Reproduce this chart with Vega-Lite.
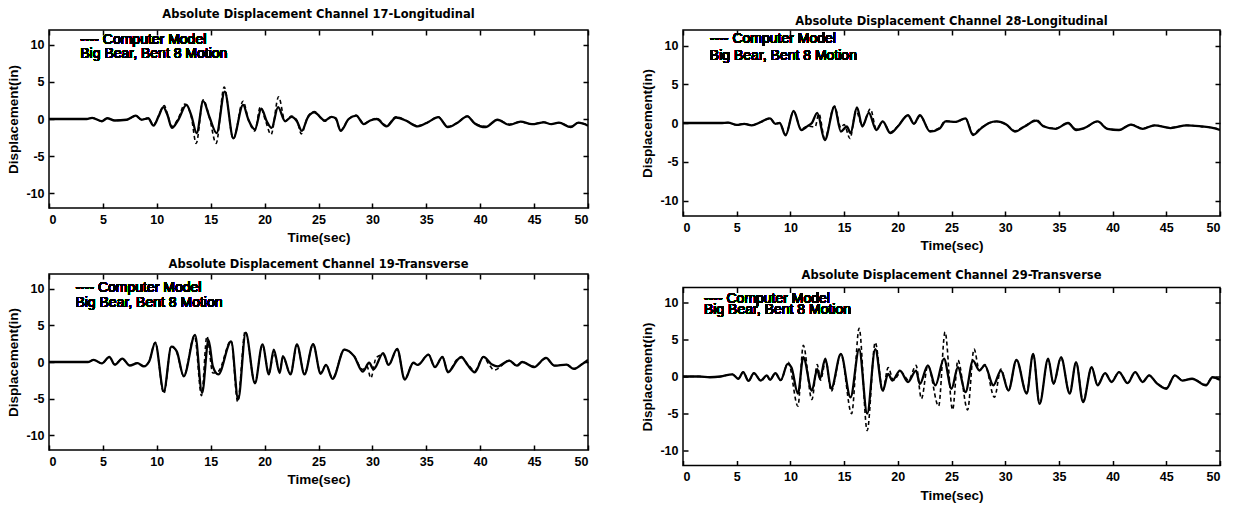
{
  "$schema": "https://vega.github.io/schema/vega-lite/v6.json",
  "background": "white",
  "padding": {"left": 6, "top": 8, "right": 2, "bottom": 2},
  "config": {
    "font": "Liberation Sans",
    "view": {"stroke": "black", "strokeWidth": 1.5},
    "axis": {"grid": false, "domain": false, "tickSize": -5, "tickWidth": 1.5, "tickColor": "black", "labelFontSize": 12.5, "labelFontWeight": "bold", "labelColor": "black", "labelPadding": 10, "titleFontSize": 13.5, "titleFontWeight": "bold", "titleColor": "black", "titlePadding": 5},
    "title": {"font": "DejaVu Sans", "fontSize": 11.5, "fontWeight": "bold", "color": "black", "frame": "group"},
    "text": {"font": "Liberation Sans", "fontSize": 14, "color": "black", "align": "left", "baseline": "middle"}
  },
  "datasets": {
    "ch17": [
      {"series":"Measured","time":0,"disp":0},{"series":"Measured","time":3.5,"disp":0},{"series":"Measured","time":4.0,"disp":0.15},{"series":"Measured","time":4.9,"disp":-0.3},{"series":"Measured","time":5.4,"disp":0.1},{"series":"Measured","time":6.1,"disp":-0.2},{"series":"Measured","time":7.2,"disp":-0.1},{"series":"Measured","time":8.05,"disp":0.45},{"series":"Measured","time":8.6,"disp":-0.1},{"series":"Measured","time":9.2,"disp":0.1},{"series":"Measured","time":9.7,"disp":-0.9},{"series":"Measured","time":10.15,"disp":0.3},{"series":"Measured","time":10.6,"disp":1.6},{"series":"Measured","time":11.0,"disp":0.5},{"series":"Measured","time":11.4,"disp":-1.2},{"series":"Measured","time":12.0,"disp":-0.1},{"series":"Measured","time":12.75,"disp":1.9},{"series":"Measured","time":13.2,"disp":0.5},{"series":"Measured","time":13.7,"disp":-1.9},{"series":"Measured","time":14.3,"disp":2.4},{"series":"Measured","time":14.9,"disp":0.2},{"series":"Measured","time":15.55,"disp":-1.9},{"series":"Measured","time":16.3,"disp":3.7},{"series":"Measured","time":17.1,"disp":-2.6},{"series":"Measured","time":18.0,"disp":1.9},{"series":"Measured","time":18.5,"disp":-0.1},{"series":"Measured","time":19.1,"disp":-1.4},{"series":"Measured","time":19.7,"disp":1.4},{"series":"Measured","time":20.2,"disp":-0.3},{"series":"Measured","time":20.65,"disp":-1.2},{"series":"Measured","time":21.25,"disp":1.6},{"series":"Measured","time":21.9,"disp":-0.3},{"series":"Measured","time":22.5,"disp":0.3},{"series":"Measured","time":23.0,"disp":-0.3},{"series":"Measured","time":23.45,"disp":-1.6},{"series":"Measured","time":24.0,"disp":0.2},{"series":"Measured","time":24.6,"disp":0.9},{"series":"Measured","time":25.6,"disp":-0.2},{"series":"Measured","time":26.2,"disp":0.3},{"series":"Measured","time":26.6,"disp":0.1},{"series":"Measured","time":27.05,"disp":-1.6},{"series":"Measured","time":27.8,"disp":0},{"series":"Measured","time":28.5,"disp":0.45},{"series":"Measured","time":29.2,"disp":-0.7},{"series":"Measured","time":29.8,"disp":-0.2},{"series":"Measured","time":30.4,"disp":0},{"series":"Measured","time":31.3,"disp":-1.0},{"series":"Measured","time":32.2,"disp":0.2},{"series":"Measured","time":33.1,"disp":-0.2},{"series":"Measured","time":34.2,"disp":-1.0},{"series":"Measured","time":35.2,"disp":-0.4},{"series":"Measured","time":36.1,"disp":0.25},{"series":"Measured","time":37.0,"disp":-1.1},{"series":"Measured","time":37.9,"disp":-0.5},{"series":"Measured","time":38.8,"disp":0.35},{"series":"Measured","time":39.5,"disp":-0.6},{"series":"Measured","time":40.5,"disp":-1.1},{"series":"Measured","time":41.6,"disp":-0.1},{"series":"Measured","time":42.7,"disp":-0.8},{"series":"Measured","time":43.75,"disp":-0.35},{"series":"Measured","time":44.8,"disp":-0.7},{"series":"Measured","time":45.9,"disp":-0.45},{"series":"Measured","time":46.6,"disp":-0.7},{"series":"Measured","time":47.3,"disp":-0.5},{"series":"Measured","time":48.4,"disp":-1.1},{"series":"Measured","time":49.1,"disp":-0.5},{"series":"Measured","time":50,"disp":-0.9},
      {"series":"Computer Model","time":0,"disp":0},{"series":"Computer Model","time":3.5,"disp":0},{"series":"Computer Model","time":4.0,"disp":0.15},{"series":"Computer Model","time":4.9,"disp":-0.3},{"series":"Computer Model","time":5.4,"disp":0.1},{"series":"Computer Model","time":6.1,"disp":-0.2},{"series":"Computer Model","time":7.2,"disp":-0.1},{"series":"Computer Model","time":8.05,"disp":0.4},{"series":"Computer Model","time":8.6,"disp":-0.1},{"series":"Computer Model","time":9.2,"disp":0.1},{"series":"Computer Model","time":9.7,"disp":-0.8},{"series":"Computer Model","time":10.15,"disp":0.4},{"series":"Computer Model","time":10.7,"disp":1.8},{"series":"Computer Model","time":11.0,"disp":0.6},{"series":"Computer Model","time":11.4,"disp":-1.0},{"series":"Computer Model","time":12.0,"disp":0.1},{"series":"Computer Model","time":12.6,"disp":2.0},{"series":"Computer Model","time":13.2,"disp":0.3},{"series":"Computer Model","time":13.65,"disp":-3.3},{"series":"Computer Model","time":14.3,"disp":2.6},{"series":"Computer Model","time":14.9,"disp":0.1},{"series":"Computer Model","time":15.5,"disp":-3.3},{"series":"Computer Model","time":16.25,"disp":4.3},{"series":"Computer Model","time":17.1,"disp":-2.7},{"series":"Computer Model","time":18.0,"disp":2.4},{"series":"Computer Model","time":18.5,"disp":-0.1},{"series":"Computer Model","time":19.1,"disp":-1.6},{"series":"Computer Model","time":19.6,"disp":1.6},{"series":"Computer Model","time":20.1,"disp":-0.3},{"series":"Computer Model","time":20.6,"disp":-2.1},{"series":"Computer Model","time":21.3,"disp":3.0},{"series":"Computer Model","time":21.9,"disp":-0.3},{"series":"Computer Model","time":22.5,"disp":0.4},{"series":"Computer Model","time":23.0,"disp":-0.2},{"series":"Computer Model","time":23.4,"disp":-2.0},{"series":"Computer Model","time":24.0,"disp":0.3},{"series":"Computer Model","time":24.6,"disp":1.0},{"series":"Computer Model","time":25.6,"disp":-0.3},{"series":"Computer Model","time":26.2,"disp":0.3},{"series":"Computer Model","time":26.6,"disp":0},{"series":"Computer Model","time":27.05,"disp":-1.5},{"series":"Computer Model","time":27.8,"disp":0},{"series":"Computer Model","time":28.5,"disp":0.5},{"series":"Computer Model","time":29.2,"disp":-0.6},{"series":"Computer Model","time":29.8,"disp":-0.2},{"series":"Computer Model","time":30.4,"disp":0.1},{"series":"Computer Model","time":31.3,"disp":-0.9},{"series":"Computer Model","time":32.2,"disp":0.3},{"series":"Computer Model","time":33.1,"disp":-0.2},{"series":"Computer Model","time":34.2,"disp":-0.9},{"series":"Computer Model","time":35.2,"disp":-0.4},{"series":"Computer Model","time":36.1,"disp":0.3},{"series":"Computer Model","time":37.0,"disp":-1.0},{"series":"Computer Model","time":37.9,"disp":-0.5},{"series":"Computer Model","time":38.8,"disp":0.4},{"series":"Computer Model","time":39.5,"disp":-0.6},{"series":"Computer Model","time":40.5,"disp":-1.0},{"series":"Computer Model","time":41.6,"disp":-0.1},{"series":"Computer Model","time":42.7,"disp":-0.7},{"series":"Computer Model","time":43.75,"disp":-0.4},{"series":"Computer Model","time":44.8,"disp":-0.7},{"series":"Computer Model","time":45.9,"disp":-0.4},{"series":"Computer Model","time":46.6,"disp":-0.7},{"series":"Computer Model","time":47.3,"disp":-0.5},{"series":"Computer Model","time":48.4,"disp":-1.0},{"series":"Computer Model","time":49.1,"disp":-0.5},{"series":"Computer Model","time":50,"disp":-0.8}
    ],
    "ch28": [
      {"series":"Measured","time":0,"disp":0},{"series":"Measured","time":3.5,"disp":0},{"series":"Measured","time":4.2,"disp":0.05},{"series":"Measured","time":5.0,"disp":-0.25},{"series":"Measured","time":5.7,"disp":-0.1},{"series":"Measured","time":6.4,"disp":-0.3},{"series":"Measured","time":7.2,"disp":0.1},{"series":"Measured","time":8.1,"disp":0.6},{"series":"Measured","time":8.6,"disp":-0.1},{"series":"Measured","time":9.0,"disp":0},{"series":"Measured","time":9.55,"disp":-1.6},{"series":"Measured","time":10.3,"disp":1.55},{"series":"Measured","time":11.0,"disp":-0.9},{"series":"Measured","time":11.6,"disp":-0.4},{"series":"Measured","time":12.0,"disp":0},{"series":"Measured","time":12.5,"disp":1.3},{"series":"Measured","time":13.2,"disp":-2.2},{"series":"Measured","time":14.1,"disp":2.1},{"series":"Measured","time":14.7,"disp":-1.1},{"series":"Measured","time":15.25,"disp":-0.45},{"series":"Measured","time":15.6,"disp":-1.3},{"series":"Measured","time":16.2,"disp":2.0},{"series":"Measured","time":16.7,"disp":-0.45},{"series":"Measured","time":17.3,"disp":1.3},{"series":"Measured","time":18.0,"disp":-0.9},{"series":"Measured","time":18.6,"disp":0.2},{"series":"Measured","time":19.3,"disp":-1.3},{"series":"Measured","time":20.0,"disp":-0.45},{"series":"Measured","time":20.95,"disp":1.0},{"series":"Measured","time":21.5,"disp":-0.1},{"series":"Measured","time":22.06,"disp":1.0},{"series":"Measured","time":23.0,"disp":-1.1},{"series":"Measured","time":23.9,"disp":-0.7},{"series":"Measured","time":24.45,"disp":0.2},{"series":"Measured","time":25.4,"disp":0.15},{"series":"Measured","time":26.3,"disp":0.6},{"series":"Measured","time":27.0,"disp":-1.55},{"series":"Measured","time":27.75,"disp":-0.7},{"series":"Measured","time":28.5,"disp":0},{"series":"Measured","time":29.2,"disp":0.2},{"series":"Measured","time":30.1,"disp":-0.2},{"series":"Measured","time":30.9,"disp":-1.1},{"series":"Measured","time":31.8,"disp":-0.45},{"series":"Measured","time":32.9,"disp":0.3},{"series":"Measured","time":33.6,"disp":-0.45},{"series":"Measured","time":34.7,"disp":-0.75},{"series":"Measured","time":35.85,"disp":0},{"series":"Measured","time":36.6,"disp":-0.9},{"series":"Measured","time":37.3,"disp":-0.7},{"series":"Measured","time":38.6,"disp":0.2},{"series":"Measured","time":39.5,"disp":-0.75},{"series":"Measured","time":40.6,"disp":-0.9},{"series":"Measured","time":41.7,"disp":-0.2},{"series":"Measured","time":42.8,"disp":-0.75},{"series":"Measured","time":43.9,"disp":-0.3},{"series":"Measured","time":45.4,"disp":-0.65},{"series":"Measured","time":46.9,"disp":-0.3},{"series":"Measured","time":48.3,"disp":-0.45},{"series":"Measured","time":49.2,"disp":-0.6},{"series":"Measured","time":50,"disp":-0.9},
      {"series":"Computer Model","time":0,"disp":0},{"series":"Computer Model","time":3.5,"disp":0},{"series":"Computer Model","time":4.2,"disp":0.05},{"series":"Computer Model","time":5.0,"disp":-0.25},{"series":"Computer Model","time":5.7,"disp":-0.1},{"series":"Computer Model","time":6.4,"disp":-0.3},{"series":"Computer Model","time":7.2,"disp":0.1},{"series":"Computer Model","time":8.1,"disp":0.6},{"series":"Computer Model","time":8.6,"disp":-0.1},{"series":"Computer Model","time":9.0,"disp":0},{"series":"Computer Model","time":9.55,"disp":-1.5},{"series":"Computer Model","time":10.3,"disp":1.5},{"series":"Computer Model","time":11.0,"disp":-0.8},{"series":"Computer Model","time":11.6,"disp":-0.4},{"series":"Computer Model","time":12.3,"disp":-0.5},{"series":"Computer Model","time":12.65,"disp":1.2},{"series":"Computer Model","time":13.2,"disp":-2.0},{"series":"Computer Model","time":14.1,"disp":2.2},{"series":"Computer Model","time":14.7,"disp":-0.6},{"series":"Computer Model","time":15.0,"disp":-0.2},{"series":"Computer Model","time":15.55,"disp":-2.0},{"series":"Computer Model","time":16.1,"disp":1.6},{"series":"Computer Model","time":16.7,"disp":-0.3},{"series":"Computer Model","time":17.45,"disp":1.8},{"series":"Computer Model","time":18.0,"disp":-0.8},{"series":"Computer Model","time":18.6,"disp":0.2},{"series":"Computer Model","time":19.3,"disp":-1.2},{"series":"Computer Model","time":20.0,"disp":-0.4},{"series":"Computer Model","time":20.95,"disp":1.0},{"series":"Computer Model","time":21.5,"disp":-0.1},{"series":"Computer Model","time":22.06,"disp":0.9},{"series":"Computer Model","time":23.0,"disp":-1.0},{"series":"Computer Model","time":23.9,"disp":-0.6},{"series":"Computer Model","time":24.45,"disp":0.3},{"series":"Computer Model","time":25.4,"disp":0.1},{"series":"Computer Model","time":26.3,"disp":0.6},{"series":"Computer Model","time":27.0,"disp":-1.4},{"series":"Computer Model","time":27.75,"disp":-0.6},{"series":"Computer Model","time":28.5,"disp":0},{"series":"Computer Model","time":29.2,"disp":0.2},{"series":"Computer Model","time":30.1,"disp":-0.2},{"series":"Computer Model","time":30.9,"disp":-1.0},{"series":"Computer Model","time":31.8,"disp":-0.4},{"series":"Computer Model","time":32.9,"disp":0.4},{"series":"Computer Model","time":33.6,"disp":-0.4},{"series":"Computer Model","time":34.7,"disp":-0.7},{"series":"Computer Model","time":35.85,"disp":0},{"series":"Computer Model","time":36.6,"disp":-0.8},{"series":"Computer Model","time":37.3,"disp":-0.7},{"series":"Computer Model","time":38.6,"disp":0.2},{"series":"Computer Model","time":39.5,"disp":-0.7},{"series":"Computer Model","time":40.6,"disp":-0.9},{"series":"Computer Model","time":41.7,"disp":-0.2},{"series":"Computer Model","time":42.8,"disp":-0.7},{"series":"Computer Model","time":43.9,"disp":-0.3},{"series":"Computer Model","time":45.4,"disp":-0.6},{"series":"Computer Model","time":46.9,"disp":-0.3},{"series":"Computer Model","time":48.3,"disp":-0.45},{"series":"Computer Model","time":49.2,"disp":-0.6},{"series":"Computer Model","time":50,"disp":-0.8}
    ],
    "ch19": [
      {"series":"Measured","time":0,"disp":0},{"series":"Measured","time":3.6,"disp":0},{"series":"Measured","time":4.15,"disp":0.3},{"series":"Measured","time":4.9,"disp":-0.2},{"series":"Measured","time":5.6,"disp":0.7},{"series":"Measured","time":6.1,"disp":-0.35},{"series":"Measured","time":6.8,"disp":0.45},{"series":"Measured","time":7.5,"disp":-0.5},{"series":"Measured","time":8.2,"disp":-0.15},{"series":"Measured","time":8.8,"disp":-0.6},{"series":"Measured","time":9.3,"disp":0.1},{"series":"Measured","time":9.85,"disp":2.6},{"series":"Measured","time":10.65,"disp":-4.0},{"series":"Measured","time":11.35,"disp":2.1},{"series":"Measured","time":11.85,"disp":1.45},{"series":"Measured","time":12.5,"disp":-1.95},{"series":"Measured","time":13.55,"disp":3.7},{"series":"Measured","time":14.2,"disp":-4.2},{"series":"Measured","time":14.8,"disp":3.0},{"series":"Measured","time":15.2,"disp":-0.6},{"series":"Measured","time":15.7,"disp":-1.7},{"series":"Measured","time":16.9,"disp":2.8},{"series":"Measured","time":17.55,"disp":-5.1},{"series":"Measured","time":18.25,"disp":4.0},{"series":"Measured","time":19.1,"disp":-2.9},{"series":"Measured","time":19.8,"disp":2.4},{"series":"Measured","time":20.4,"disp":-1.7},{"series":"Measured","time":20.85,"disp":1.7},{"series":"Measured","time":21.4,"disp":-1.5},{"series":"Measured","time":21.7,"disp":0.8},{"series":"Measured","time":22.4,"disp":-1.7},{"series":"Measured","time":23.0,"disp":2.4},{"series":"Measured","time":23.7,"disp":-1.7},{"series":"Measured","time":24.5,"disp":2.45},{"series":"Measured","time":25.2,"disp":-1.6},{"series":"Measured","time":25.7,"disp":-0.4},{"series":"Measured","time":26.3,"disp":-2.3},{"series":"Measured","time":27.4,"disp":1.7},{"series":"Measured","time":28.3,"disp":0.8},{"series":"Measured","time":29.1,"disp":-1.3},{"series":"Measured","time":29.7,"disp":-0.1},{"series":"Measured","time":30.1,"disp":-1.0},{"series":"Measured","time":31.0,"disp":1.2},{"series":"Measured","time":31.5,"disp":-0.4},{"series":"Measured","time":32.3,"disp":1.8},{"series":"Measured","time":33.0,"disp":-2.4},{"series":"Measured","time":33.8,"disp":-0.1},{"series":"Measured","time":34.2,"disp":-0.4},{"series":"Measured","time":35.2,"disp":1.0},{"series":"Measured","time":35.8,"disp":-0.7},{"series":"Measured","time":36.5,"disp":0.7},{"series":"Measured","time":37.0,"disp":-1.4},{"series":"Measured","time":37.9,"disp":0.3},{"series":"Measured","time":38.25,"disp":0.7},{"series":"Measured","time":38.8,"disp":-0.35},{"series":"Measured","time":39.5,"disp":-1.4},{"series":"Measured","time":40.3,"disp":0.7},{"series":"Measured","time":41.1,"disp":-0.35},{"series":"Measured","time":41.6,"disp":-0.6},{"series":"Measured","time":42.7,"disp":0.2},{"series":"Measured","time":43.4,"disp":-0.5},{"series":"Measured","time":43.9,"disp":0},{"series":"Measured","time":45.0,"disp":-0.7},{"series":"Measured","time":46.1,"disp":0.55},{"series":"Measured","time":46.9,"disp":-0.5},{"series":"Measured","time":48.0,"disp":-0.35},{"series":"Measured","time":48.7,"disp":-0.95},{"series":"Measured","time":49.4,"disp":-0.35},{"series":"Measured","time":50,"disp":0.3},
      {"series":"Computer Model","time":0,"disp":0},{"series":"Computer Model","time":3.6,"disp":0},{"series":"Computer Model","time":4.15,"disp":0.3},{"series":"Computer Model","time":4.9,"disp":-0.2},{"series":"Computer Model","time":5.6,"disp":0.65},{"series":"Computer Model","time":6.1,"disp":-0.35},{"series":"Computer Model","time":6.8,"disp":0.45},{"series":"Computer Model","time":7.5,"disp":-0.45},{"series":"Computer Model","time":8.2,"disp":-0.15},{"series":"Computer Model","time":8.8,"disp":-0.55},{"series":"Computer Model","time":9.3,"disp":0.1},{"series":"Computer Model","time":9.85,"disp":2.7},{"series":"Computer Model","time":10.65,"disp":-4.3},{"series":"Computer Model","time":11.35,"disp":2.2},{"series":"Computer Model","time":11.85,"disp":1.3},{"series":"Computer Model","time":12.5,"disp":-1.9},{"series":"Computer Model","time":13.5,"disp":3.6},{"series":"Computer Model","time":14.15,"disp":-4.6},{"series":"Computer Model","time":14.65,"disp":3.5},{"series":"Computer Model","time":15.2,"disp":-1.5},{"series":"Computer Model","time":15.7,"disp":-1.3},{"series":"Computer Model","time":16.9,"disp":2.9},{"series":"Computer Model","time":17.5,"disp":-5.4},{"series":"Computer Model","time":18.2,"disp":4.2},{"series":"Computer Model","time":19.1,"disp":-2.8},{"series":"Computer Model","time":19.8,"disp":2.3},{"series":"Computer Model","time":20.4,"disp":-1.5},{"series":"Computer Model","time":20.85,"disp":1.2},{"series":"Computer Model","time":21.4,"disp":-1.2},{"series":"Computer Model","time":21.7,"disp":0.6},{"series":"Computer Model","time":22.4,"disp":-1.6},{"series":"Computer Model","time":23.0,"disp":2.3},{"series":"Computer Model","time":23.7,"disp":-1.6},{"series":"Computer Model","time":24.5,"disp":2.4},{"series":"Computer Model","time":25.2,"disp":-1.5},{"series":"Computer Model","time":25.7,"disp":-0.4},{"series":"Computer Model","time":26.3,"disp":-2.2},{"series":"Computer Model","time":27.4,"disp":1.7},{"series":"Computer Model","time":28.3,"disp":0.8},{"series":"Computer Model","time":29.1,"disp":-1.0},{"series":"Computer Model","time":29.5,"disp":-0.6},{"series":"Computer Model","time":29.85,"disp":-2.2},{"series":"Computer Model","time":30.35,"disp":0.6},{"series":"Computer Model","time":31.0,"disp":1.0},{"series":"Computer Model","time":31.5,"disp":-0.4},{"series":"Computer Model","time":32.3,"disp":1.7},{"series":"Computer Model","time":33.0,"disp":-2.3},{"series":"Computer Model","time":33.8,"disp":-0.1},{"series":"Computer Model","time":34.2,"disp":-0.4},{"series":"Computer Model","time":35.2,"disp":1.0},{"series":"Computer Model","time":35.8,"disp":-0.7},{"series":"Computer Model","time":36.5,"disp":0.7},{"series":"Computer Model","time":37.0,"disp":-1.3},{"series":"Computer Model","time":37.9,"disp":0.4},{"series":"Computer Model","time":38.25,"disp":0.6},{"series":"Computer Model","time":38.8,"disp":-0.2},{"series":"Computer Model","time":39.5,"disp":-1.2},{"series":"Computer Model","time":40.3,"disp":0.7},{"series":"Computer Model","time":40.8,"disp":-0.3},{"series":"Computer Model","time":41.3,"disp":-1.1},{"series":"Computer Model","time":42.7,"disp":0.2},{"series":"Computer Model","time":43.4,"disp":-0.5},{"series":"Computer Model","time":43.9,"disp":0},{"series":"Computer Model","time":45.0,"disp":-0.6},{"series":"Computer Model","time":46.1,"disp":0.5},{"series":"Computer Model","time":46.9,"disp":-0.5},{"series":"Computer Model","time":48.0,"disp":-0.35},{"series":"Computer Model","time":48.7,"disp":-0.9},{"series":"Computer Model","time":49.4,"disp":-0.35},{"series":"Computer Model","time":50,"disp":0.2}
    ],
    "ch29": [
      {"series":"Measured","time":0,"disp":0},{"series":"Measured","time":1.5,"disp":0},{"series":"Measured","time":2.5,"disp":-0.1},{"series":"Measured","time":3.5,"disp":0},{"series":"Measured","time":4.6,"disp":0.3},{"series":"Measured","time":5.15,"disp":-0.3},{"series":"Measured","time":5.6,"disp":0.6},{"series":"Measured","time":6.1,"disp":-0.6},{"series":"Measured","time":6.6,"disp":0.45},{"series":"Measured","time":7.25,"disp":-0.55},{"series":"Measured","time":7.8,"disp":0.15},{"series":"Measured","time":8.1,"disp":-0.45},{"series":"Measured","time":8.6,"disp":0.45},{"series":"Measured","time":9.1,"disp":-0.5},{"series":"Measured","time":9.75,"disp":1.7},{"series":"Measured","time":10.1,"disp":1.2},{"series":"Measured","time":10.7,"disp":-2.3},{"series":"Measured","time":11.2,"disp":2.6},{"series":"Measured","time":12.0,"disp":-1.9},{"series":"Measured","time":12.5,"disp":1.0},{"series":"Measured","time":12.75,"disp":-0.3},{"series":"Measured","time":13.25,"disp":2.4},{"series":"Measured","time":13.8,"disp":-1.65},{"series":"Measured","time":14.7,"disp":3.05},{"series":"Measured","time":15.6,"disp":-2.8},{"series":"Measured","time":16.4,"disp":3.7},{"series":"Measured","time":17.15,"disp":-5.0},{"series":"Measured","time":17.9,"disp":3.7},{"series":"Measured","time":18.6,"disp":-1.9},{"series":"Measured","time":19.1,"disp":0.35},{"series":"Measured","time":19.5,"disp":-0.55},{"series":"Measured","time":20.2,"disp":0.8},{"series":"Measured","time":20.95,"disp":-0.75},{"series":"Measured","time":21.7,"disp":0.8},{"series":"Measured","time":22.05,"disp":-1.0},{"series":"Measured","time":22.8,"disp":1.5},{"series":"Measured","time":23.5,"disp":-1.2},{"series":"Measured","time":24.3,"disp":2.4},{"series":"Measured","time":25.0,"disp":-1.65},{"series":"Measured","time":25.6,"disp":1.25},{"series":"Measured","time":26.3,"disp":-2.1},{"series":"Measured","time":27.0,"disp":2.15},{"series":"Measured","time":27.6,"disp":0.8},{"series":"Measured","time":28.1,"disp":1.5},{"series":"Measured","time":28.9,"disp":-1.2},{"series":"Measured","time":29.6,"disp":0.8},{"series":"Measured","time":30.3,"disp":-1.9},{"series":"Measured","time":31.05,"disp":2.25},{"series":"Measured","time":32.0,"disp":-2.3},{"series":"Measured","time":32.6,"disp":3.05},{"series":"Measured","time":33.2,"disp":-3.7},{"series":"Measured","time":34.0,"disp":2.4},{"series":"Measured","time":34.5,"disp":-1.0},{"series":"Measured","time":35.2,"disp":2.6},{"series":"Measured","time":36.0,"disp":-2.3},{"series":"Measured","time":36.6,"disp":1.9},{"series":"Measured","time":37.25,"disp":-3.45},{"series":"Measured","time":38.05,"disp":1.25},{"series":"Measured","time":38.6,"disp":-1.2},{"series":"Measured","time":39.3,"disp":0.45},{"series":"Measured","time":39.9,"disp":-0.75},{"series":"Measured","time":40.6,"disp":0.6},{"series":"Measured","time":41.4,"disp":-0.9},{"series":"Measured","time":42.1,"disp":0.6},{"series":"Measured","time":42.8,"disp":-0.75},{"series":"Measured","time":43.4,"disp":0.15},{"series":"Measured","time":44.1,"disp":-0.9},{"series":"Measured","time":45.0,"disp":-1.65},{"series":"Measured","time":45.8,"disp":0.15},{"series":"Measured","time":46.5,"disp":-0.55},{"series":"Measured","time":47.4,"disp":-0.3},{"series":"Measured","time":48.7,"disp":-1.2},{"series":"Measured","time":49.3,"disp":-0.1},{"series":"Measured","time":50,"disp":-0.45},
      {"series":"Computer Model","time":0,"disp":0},{"series":"Computer Model","time":1.5,"disp":0},{"series":"Computer Model","time":2.5,"disp":-0.1},{"series":"Computer Model","time":3.5,"disp":0},{"series":"Computer Model","time":4.6,"disp":0.3},{"series":"Computer Model","time":5.15,"disp":-0.3},{"series":"Computer Model","time":5.6,"disp":0.6},{"series":"Computer Model","time":6.1,"disp":-0.6},{"series":"Computer Model","time":6.6,"disp":0.45},{"series":"Computer Model","time":7.25,"disp":-0.55},{"series":"Computer Model","time":7.8,"disp":0.15},{"series":"Computer Model","time":8.1,"disp":-0.45},{"series":"Computer Model","time":8.6,"disp":0.45},{"series":"Computer Model","time":9.1,"disp":-0.5},{"series":"Computer Model","time":9.8,"disp":1.9},{"series":"Computer Model","time":10.7,"disp":-4.0},{"series":"Computer Model","time":11.2,"disp":4.2},{"series":"Computer Model","time":12.0,"disp":-3.1},{"series":"Computer Model","time":12.5,"disp":1.6},{"series":"Computer Model","time":12.8,"disp":-0.5},{"series":"Computer Model","time":13.3,"disp":2.2},{"series":"Computer Model","time":13.8,"disp":-2.0},{"series":"Computer Model","time":14.7,"disp":3.0},{"series":"Computer Model","time":15.7,"disp":-5.0},{"series":"Computer Model","time":16.4,"disp":6.5},{"series":"Computer Model","time":17.15,"disp":-7.3},{"series":"Computer Model","time":17.9,"disp":4.6},{"series":"Computer Model","time":18.6,"disp":-2.0},{"series":"Computer Model","time":19.1,"disp":1.2},{"series":"Computer Model","time":19.6,"disp":-0.5},{"series":"Computer Model","time":20.3,"disp":0.6},{"series":"Computer Model","time":21.0,"disp":-0.5},{"series":"Computer Model","time":21.7,"disp":1.5},{"series":"Computer Model","time":22.2,"disp":-3.0},{"series":"Computer Model","time":22.8,"disp":1.5},{"series":"Computer Model","time":23.8,"disp":-4.0},{"series":"Computer Model","time":24.4,"disp":6.0},{"series":"Computer Model","time":25.1,"disp":-4.5},{"series":"Computer Model","time":25.6,"disp":2.2},{"series":"Computer Model","time":26.5,"disp":-4.5},{"series":"Computer Model","time":27.1,"disp":3.7},{"series":"Computer Model","time":27.6,"disp":0.8},{"series":"Computer Model","time":28.1,"disp":1.6},{"series":"Computer Model","time":29.0,"disp":-2.8},{"series":"Computer Model","time":29.6,"disp":1.0},{"series":"Computer Model","time":30.3,"disp":-1.9},{"series":"Computer Model","time":31.05,"disp":2.2},{"series":"Computer Model","time":32.0,"disp":-2.2},{"series":"Computer Model","time":32.6,"disp":3.0},{"series":"Computer Model","time":33.2,"disp":-3.6},{"series":"Computer Model","time":34.0,"disp":2.3},{"series":"Computer Model","time":34.5,"disp":-1.0},{"series":"Computer Model","time":35.2,"disp":2.5},{"series":"Computer Model","time":36.0,"disp":-2.2},{"series":"Computer Model","time":36.6,"disp":1.9},{"series":"Computer Model","time":37.25,"disp":-3.3},{"series":"Computer Model","time":38.05,"disp":1.2},{"series":"Computer Model","time":38.6,"disp":-1.1},{"series":"Computer Model","time":39.3,"disp":0.45},{"series":"Computer Model","time":39.9,"disp":-0.7},{"series":"Computer Model","time":40.6,"disp":0.6},{"series":"Computer Model","time":41.4,"disp":-0.85},{"series":"Computer Model","time":42.1,"disp":0.6},{"series":"Computer Model","time":42.8,"disp":-0.7},{"series":"Computer Model","time":43.4,"disp":0.15},{"series":"Computer Model","time":44.1,"disp":-0.85},{"series":"Computer Model","time":45.0,"disp":-1.55},{"series":"Computer Model","time":45.8,"disp":0.15},{"series":"Computer Model","time":46.5,"disp":-0.5},{"series":"Computer Model","time":47.4,"disp":-0.3},{"series":"Computer Model","time":48.7,"disp":-1.1},{"series":"Computer Model","time":49.3,"disp":-0.1},{"series":"Computer Model","time":50,"disp":-0.4}
    ]
  },
  "spacing": 50,
  "hconcat": [
    {
      "spacing": 13,
      "vconcat": [
        {
          "title": {"text": "Absolute Displacement Channel 17-Longitudinal", "offset": 8.5},
          "width": 539, "height": 178,
          "data": {"name": "ch17"},
          "resolve": {"axis": {"x": "independent", "y": "independent"}},
          "layer": [
            {"transform": [{"filter": "datum.series == 'Measured'"}], "mark": {"type": "line", "interpolate": "monotone", "color": "black", "strokeWidth": 2.3, "clip": true},
             "encoding": {"x": {"field": "time", "type": "quantitative", "scale": {"domain": [0, 50], "nice": false}, "axis": {"title": "Time(sec)", "values": [0,5,10,15,20,25,30,35,40,45,50]}},
                          "y": {"field": "disp", "type": "quantitative", "scale": {"domain": [-12, 12], "nice": false}, "axis": {"title": "Displacement(in)", "values": [-10,-5,0,5,10], "labelExpr": "datum.value < 0 ? '-' + abs(datum.value) : '' + datum.value"}}}},
            {"transform": [{"filter": "datum.series == 'Computer Model'"}], "mark": {"type": "line", "interpolate": "monotone", "color": "black", "strokeWidth": 1.6, "strokeDash": [4, 3], "clip": true},
             "encoding": {"x": {"field": "time", "type": "quantitative", "axis": {"orient": "top", "labels": false, "title": null, "values": [0,5,10,15,20,25,30,35,40,45,50]}},
                          "y": {"field": "disp", "type": "quantitative", "axis": {"orient": "right", "labels": false, "title": null, "values": [-10,-5,0,5,10]}}}},
            {"mark": {"type": "text"},
             "encoding": {"x": {"datum": 2.9, "type": "quantitative", "axis": null}, "y": {"datum": 10.6, "type": "quantitative", "axis": null}, "text": {"value": "---- Computer Model"}}},
            {"mark": {"type": "text"},
             "encoding": {"x": {"datum": 2.9, "type": "quantitative", "axis": null}, "y": {"datum": 8.7, "type": "quantitative", "axis": null}, "text": {"value": "Big Bear, Bent 8 Motion"}}}
          ]
        },
        {
          "title": {"text": "Absolute Displacement Channel 19-Transverse", "offset": 3},
          "width": 539, "height": 176,
          "data": {"name": "ch19"},
          "resolve": {"axis": {"x": "independent", "y": "independent"}},
          "layer": [
            {"transform": [{"filter": "datum.series == 'Measured'"}], "mark": {"type": "line", "interpolate": "monotone", "color": "black", "strokeWidth": 2.3, "clip": true},
             "encoding": {"x": {"field": "time", "type": "quantitative", "scale": {"domain": [0, 50], "nice": false}, "axis": {"title": "Time(sec)", "values": [0,5,10,15,20,25,30,35,40,45,50]}},
                          "y": {"field": "disp", "type": "quantitative", "scale": {"domain": [-12, 12], "nice": false}, "axis": {"title": "Displacement(in)", "values": [-10,-5,0,5,10], "labelExpr": "datum.value < 0 ? '-' + abs(datum.value) : '' + datum.value"}}}},
            {"transform": [{"filter": "datum.series == 'Computer Model'"}], "mark": {"type": "line", "interpolate": "monotone", "color": "black", "strokeWidth": 1.6, "strokeDash": [4, 3], "clip": true},
             "encoding": {"x": {"field": "time", "type": "quantitative", "axis": {"orient": "top", "labels": false, "title": null, "values": [0,5,10,15,20,25,30,35,40,45,50]}},
                          "y": {"field": "disp", "type": "quantitative", "axis": {"orient": "right", "labels": false, "title": null, "values": [-10,-5,0,5,10]}}}},
            {"mark": {"type": "text"},
             "encoding": {"x": {"datum": 2.45, "type": "quantitative", "axis": null}, "y": {"datum": 10.1, "type": "quantitative", "axis": null}, "text": {"value": "---- Computer Model"}}},
            {"mark": {"type": "text"},
             "encoding": {"x": {"datum": 2.45, "type": "quantitative", "axis": null}, "y": {"datum": 8.1, "type": "quantitative", "axis": null}, "text": {"value": "Big Bear, Bent 8 Motion"}}}
          ]
        }
      ]
    },
    {
      "spacing": 15.5,
      "vconcat": [
        {
          "title": {"text": "Absolute Displacement Channel 28-Longitudinal", "offset": 1.5},
          "width": 537, "height": 186,
          "data": {"name": "ch28"},
          "resolve": {"axis": {"x": "independent", "y": "independent"}},
          "layer": [
            {"transform": [{"filter": "datum.series == 'Measured'"}], "mark": {"type": "line", "interpolate": "monotone", "color": "black", "strokeWidth": 2.3, "clip": true},
             "encoding": {"x": {"field": "time", "type": "quantitative", "scale": {"domain": [0, 50], "nice": false}, "axis": {"title": "Time(sec)", "values": [0,5,10,15,20,25,30,35,40,45,50]}},
                          "y": {"field": "disp", "type": "quantitative", "scale": {"domain": [-12, 12], "nice": false}, "axis": {"title": "Displacement(in)", "values": [-10,-5,0,5,10], "labelExpr": "datum.value < 0 ? '-' + abs(datum.value) : '' + datum.value"}}}},
            {"transform": [{"filter": "datum.series == 'Computer Model'"}], "mark": {"type": "line", "interpolate": "monotone", "color": "black", "strokeWidth": 1.6, "strokeDash": [4, 3], "clip": true},
             "encoding": {"x": {"field": "time", "type": "quantitative", "axis": {"orient": "top", "labels": false, "title": null, "values": [0,5,10,15,20,25,30,35,40,45,50]}},
                          "y": {"field": "disp", "type": "quantitative", "axis": {"orient": "right", "labels": false, "title": null, "values": [-10,-5,0,5,10]}}}},
            {"mark": {"type": "text"},
             "encoding": {"x": {"datum": 2.5, "type": "quantitative", "axis": null}, "y": {"datum": 10.8, "type": "quantitative", "axis": null}, "text": {"value": "---- Computer Model"}}},
            {"mark": {"type": "text"},
             "encoding": {"x": {"datum": 2.5, "type": "quantitative", "axis": null}, "y": {"datum": 8.6, "type": "quantitative", "axis": null}, "text": {"value": "Big Bear, Bent 8 Motion"}}}
          ]
        },
        {
          "title": {"text": "Absolute Displacement Channel 29-Transverse", "offset": 5.5},
          "width": 537, "height": 178,
          "data": {"name": "ch29"},
          "resolve": {"axis": {"x": "independent", "y": "independent"}},
          "layer": [
            {"transform": [{"filter": "datum.series == 'Measured'"}], "mark": {"type": "line", "interpolate": "monotone", "color": "black", "strokeWidth": 2.3, "clip": true},
             "encoding": {"x": {"field": "time", "type": "quantitative", "scale": {"domain": [0, 50], "nice": false}, "axis": {"title": "Time(sec)", "values": [0,5,10,15,20,25,30,35,40,45,50]}},
                          "y": {"field": "disp", "type": "quantitative", "scale": {"domain": [-12, 12], "nice": false}, "axis": {"title": "Displacement(in)", "values": [-10,-5,0,5,10], "labelExpr": "datum.value < 0 ? '-' + abs(datum.value) : '' + datum.value"}}}},
            {"transform": [{"filter": "datum.series == 'Computer Model'"}], "mark": {"type": "line", "interpolate": "monotone", "color": "black", "strokeWidth": 1.6, "strokeDash": [4, 3], "clip": true},
             "encoding": {"x": {"field": "time", "type": "quantitative", "axis": {"orient": "top", "labels": false, "title": null, "values": [0,5,10,15,20,25,30,35,40,45,50]}},
                          "y": {"field": "disp", "type": "quantitative", "axis": {"orient": "right", "labels": false, "title": null, "values": [-10,-5,0,5,10]}}}},
            {"mark": {"type": "text"},
             "encoding": {"x": {"datum": 1.95, "type": "quantitative", "axis": null}, "y": {"datum": 10.5, "type": "quantitative", "axis": null}, "text": {"value": "---- Computer Model"}}},
            {"mark": {"type": "text"},
             "encoding": {"x": {"datum": 1.95, "type": "quantitative", "axis": null}, "y": {"datum": 8.9, "type": "quantitative", "axis": null}, "text": {"value": "Big Bear, Bent 8 Motion"}}}
          ]
        }
      ]
    }
  ]
}
